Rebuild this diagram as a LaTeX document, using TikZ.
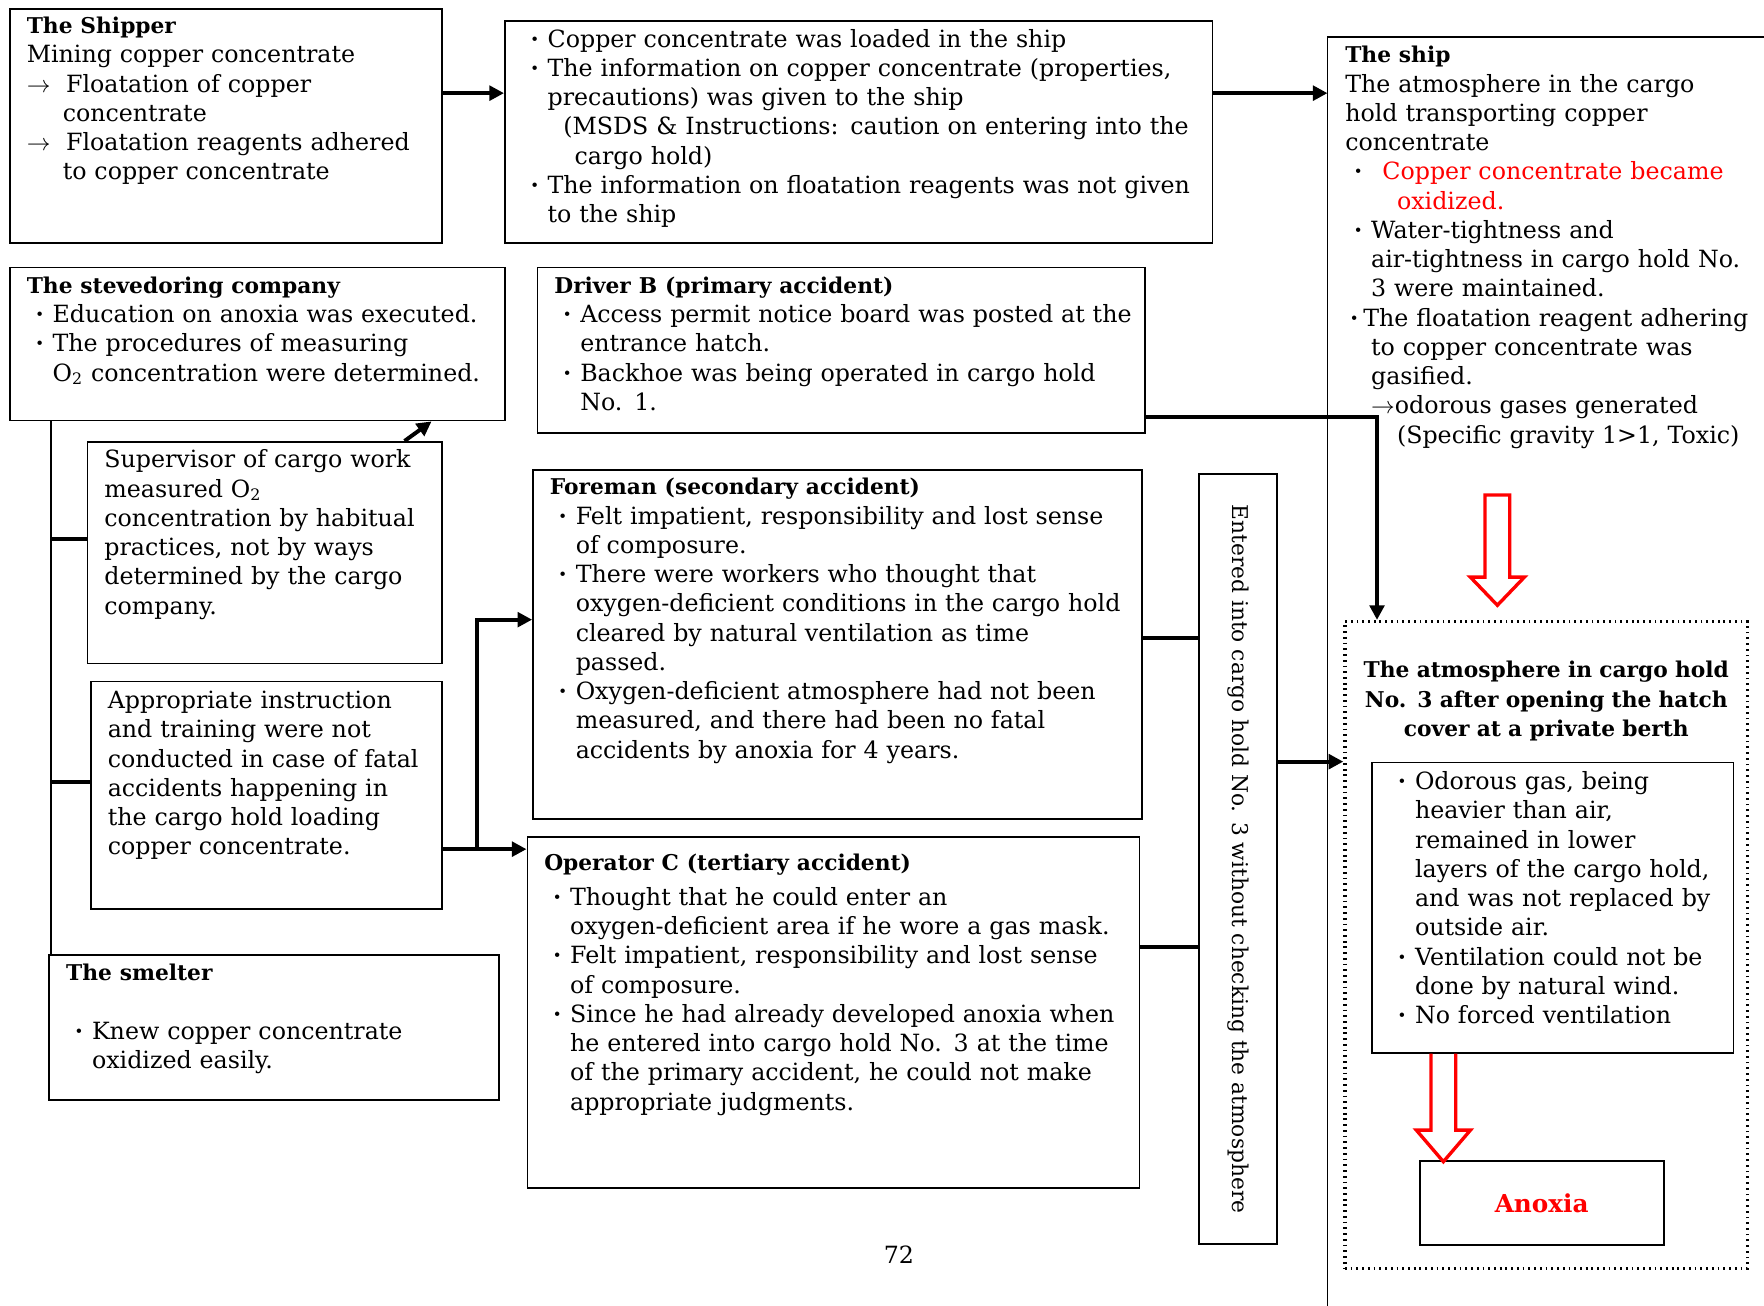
\documentclass[tikz,border=0pt]{standalone}
\usepackage{fontspec}
\setmainfont{DejaVu Serif}
\usetikzlibrary{arrows.meta}

\newcommand{\bul}{\makebox[4.6mm][c]{\textbf{·}}}
\newcommand{\ind}{\hspace*{4.6mm}}
\newcommand{\ttl}[1]{{\fontsize{11}{14.8}\selectfont\bfseries #1}}

\begin{document}
\begin{tikzpicture}[x=0.2mm, y=-0.2mm,
            >={Triangle[length=2.6mm, width=2.6mm]},
            box/.style={draw, line width=0.9pt, anchor=north west, align=left,
                inner xsep=3mm, inner ysep=0pt, font=\fontsize{12}{14.8}\selectfont,
                execute at begin node={\rightskip=0pt plus 1fil minus 50mm\relax}},
            conn/.style={line width=2pt},
            hollow/.style={draw=red, line width=0.6mm, line join=miter}]
            \useasboundingbox (0,0) rectangle (1568,1160);

            \node[box, text width=70.8mm, text height=4.4mm, text depth=37.2mm] (shipper) at (8,7) {\ttl{The Shipper}\\
                Mining copper concentrate\\
                \makebox[7mm][l]{$\rightarrow$}Floatation of copper\\
                \hspace*{6.4mm}concentrate\\
                \makebox[7mm][l]{$\rightarrow$}Floatation reagents adhered\\
                \hspace*{6.4mm}to copper concentrate};
            \node[box, text width=119.8mm, text height=4.6mm, text depth=34.8mm] (info) at (448,18) {\bul Copper concentrate was loaded in the ship\\
                \bul The information on copper concentrate (properties,\\
                \ind precautions) was given to the ship\\
                \ind\hspace*{2.8mm}(MSDS \& Instructions: caution on entering into the\\
                \ind\hspace*{4.8mm}cargo hold)\\
                \bul The information on floatation reagents was not given\\
                \ind to the ship};
            \node[box, draw=none, text width=71.6mm, text height=4.4mm, text depth=221mm] (ship) at (1180,33) {\ttl{The ship}\\
                The atmosphere in the cargo\\
                hold transporting copper\\
                concentrate\\
                \bul\hspace*{2mm}\textcolor{red}{Copper concentrate became}\\
                \ind\ind\textcolor{red}{oxidized.}\\
                \bul Water-tightness and\\
                \ind air-tightness in cargo hold No.\\
                \ind 3 were maintained.\\
                \makebox[3.2mm][c]{\textbf{·}}The floatation reagent adhering\\
                \ind to copper concentrate was\\
                \ind gasified.\\
                \ind$\rightarrow$odorous gases generated\\
                \ind\ind(Specific gravity 1>1, Toxic)};

            \node[box, text width=82mm, text height=4.6mm, text depth=22.6mm] (steve) at (8,237) {\ttl{The stevedoring company}\\
                \bul Education on anoxia was executed.\\
                \bul The procedures of measuring\\
                \ind O\textsubscript{2} concentration were determined.};
            \node[box, text width=102mm, text height=4.6mm, text depth=24.8mm] (driver) at (477,237) {\ttl{Driver B (primary accident)}\\
                \bul Access permit notice board was posted at the\\
                \ind entrance hatch.\\
                \bul Backhoe was being operated in cargo hold\\
                \ind No. 1.};

            \node[box, text width=57mm, text height=4.6mm, text depth=34.8mm] (superv) at (77,392) {Supervisor of cargo work\\
                measured O\textsubscript{2}\\
                concentration by habitual\\
                practices, not by ways\\
                determined by the cargo\\
                company.};
            \node[box, text width=56.4mm, text height=4.8mm, text depth=35.6mm] (train) at (80,605) {Appropriate instruction\\
                and training were not\\
                conducted in case of fatal\\
                accidents happening in\\
                the cargo hold loading\\
                copper concentrate.};
            \node[box, text width=74mm, text height=4.6mm, text depth=21.2mm] (smelter) at (43,848) {\ttl{The smelter}\\[14.8pt]
                \bul Knew copper concentrate\\
                \ind oxidized easily.};

            \node[box, text width=102.2mm, text height=4.4mm, text depth=57.6mm] (foreman) at (473,417) {\ttl{Foreman (secondary accident)}\\
                \bul Felt impatient, responsibility and lost sense\\
                \ind of composure.\\
                \bul There were workers who thought that\\
                \ind oxygen-deficient conditions in the cargo hold\\
                \ind cleared by natural ventilation as time\\
                \ind passed.\\
                \bul Oxygen-deficient atmosphere had not been\\
                \ind measured, and there had been no fatal\\
                \ind accidents by anoxia for 4 years.};
            \node[box, text width=102.8mm, text height=6mm, text depth=56.4mm] (operator) at (468,743) {\ttl{Operator C (tertiary accident)}\\[1mm]
                \bul Thought that he could enter an\\
                \ind oxygen-deficient area if he wore a gas mask.\\
                \bul Felt impatient, responsibility and lost sense\\
                \ind of composure.\\
                \bul Since he had already developed anoxia when\\
                \ind he entered into cargo hold No. 3 at the time\\
                \ind of the primary accident, he could not make\\
                \ind appropriate judgments.};

            \node[draw, line width=0.9pt, rotate=-90, minimum width=137mm, minimum height=13.8mm,
                font=\fontsize{11}{14}\selectfont] (entered) at (1100.5,763.5) {Entered into cargo hold No. 3 without checking the atmosphere};

            \node[box, dotted, line width=1.7pt, inner xsep=2mm, text width=67.6mm, text height=10mm, text depth=105mm,
                font=\fontsize{11}{14.8}\selectfont\bfseries] (atmos) at (1194,551) {\centering The atmosphere in cargo hold\\
                No. 3 after opening the hatch\\
                cover at a private berth\par};
            \node[box, text width=58.2mm, text height=4.8mm, text depth=46.8mm] (inner) at (1219,677) {\bul Odorous gas, being\\
                \ind heavier than air,\\
                \ind remained in lower\\
                \ind layers of the cargo hold,\\
                \ind and was not replaced by\\
                \ind outside air.\\
                \bul Ventilation could not be\\
                \ind done by natural wind.\\
                \bul No forced ventilation};
            \node[draw, line width=1pt, anchor=north west, minimum width=43.4mm, minimum height=15mm,
                text=red, font=\fontsize{12.5}{14.8}\selectfont\bfseries] (anoxia) at (1261,1031) {Anoxia};

            \node[font=\fontsize{12}{14.8}\selectfont] (page) at (799,1115) {72};

            \draw[line width=0.9pt] (ship.north east) -- (ship.north west) -- (ship.south west);

            \draw[conn, ->] ([yshift=5.8mm]shipper.east) -- ([yshift=5.8mm]shipper.east -| info.west);
            \draw[conn, ->] ([yshift=6.9mm]info.east) -- ([yshift=6.9mm]info.east -| ship.west);
            \draw[conn, ->] ([yshift=-11.9mm]driver.east) -| ([xshift=6mm]atmos.north west);

            \draw[line width=0.9pt] ([xshift=7.4mm]steve.south west) -- ([xshift=7.4mm]steve.south west |- smelter.north);
            \draw[conn] ([yshift=2.5mm]superv.west) -- ++(-32,0);
            \draw[conn] ([yshift=2.4mm]train.west) -- ++(-35,0);
            \draw[conn, ->] ([xshift=-6.8mm]superv.north east) -- ([xshift=-13.2mm]steve.south east);

            \draw[conn, ->] ([yshift=-9.6mm]train.east) -- ++(30,0) |- ([yshift=4.4mm]foreman.west);
            \draw[conn, ->] ([yshift=-9.6mm]train.east) -- ([yshift=-9.6mm]train.east -| operator.west);

            \draw[conn] ([yshift=1.2mm]foreman.east) -- ([yshift=1.2mm]foreman.east -| entered.south);
            \draw[conn] ([yshift=11.6mm]operator.east) -- ([yshift=11.6mm]operator.east -| entered.south);
            \draw[conn, ->] (entered.north |- inner.north) -- (atmos.west |- inner.north);

            \draw[hollow] (1320,440) -- ++(0,73) -- ++(-13,0) -- ++(24,25) -- ++(24,-25) -- ++(-13,0) -- ++(0,-73) -- cycle;
            \draw[hollow] ([xshift=10.6mm]inner.south west) -- ++(0,68) -- ++(-13,0) -- ++(24,28) -- ++(24,-28) -- ++(-13,0) -- ++(0,-68);
        \end{tikzpicture}
\end{document}
